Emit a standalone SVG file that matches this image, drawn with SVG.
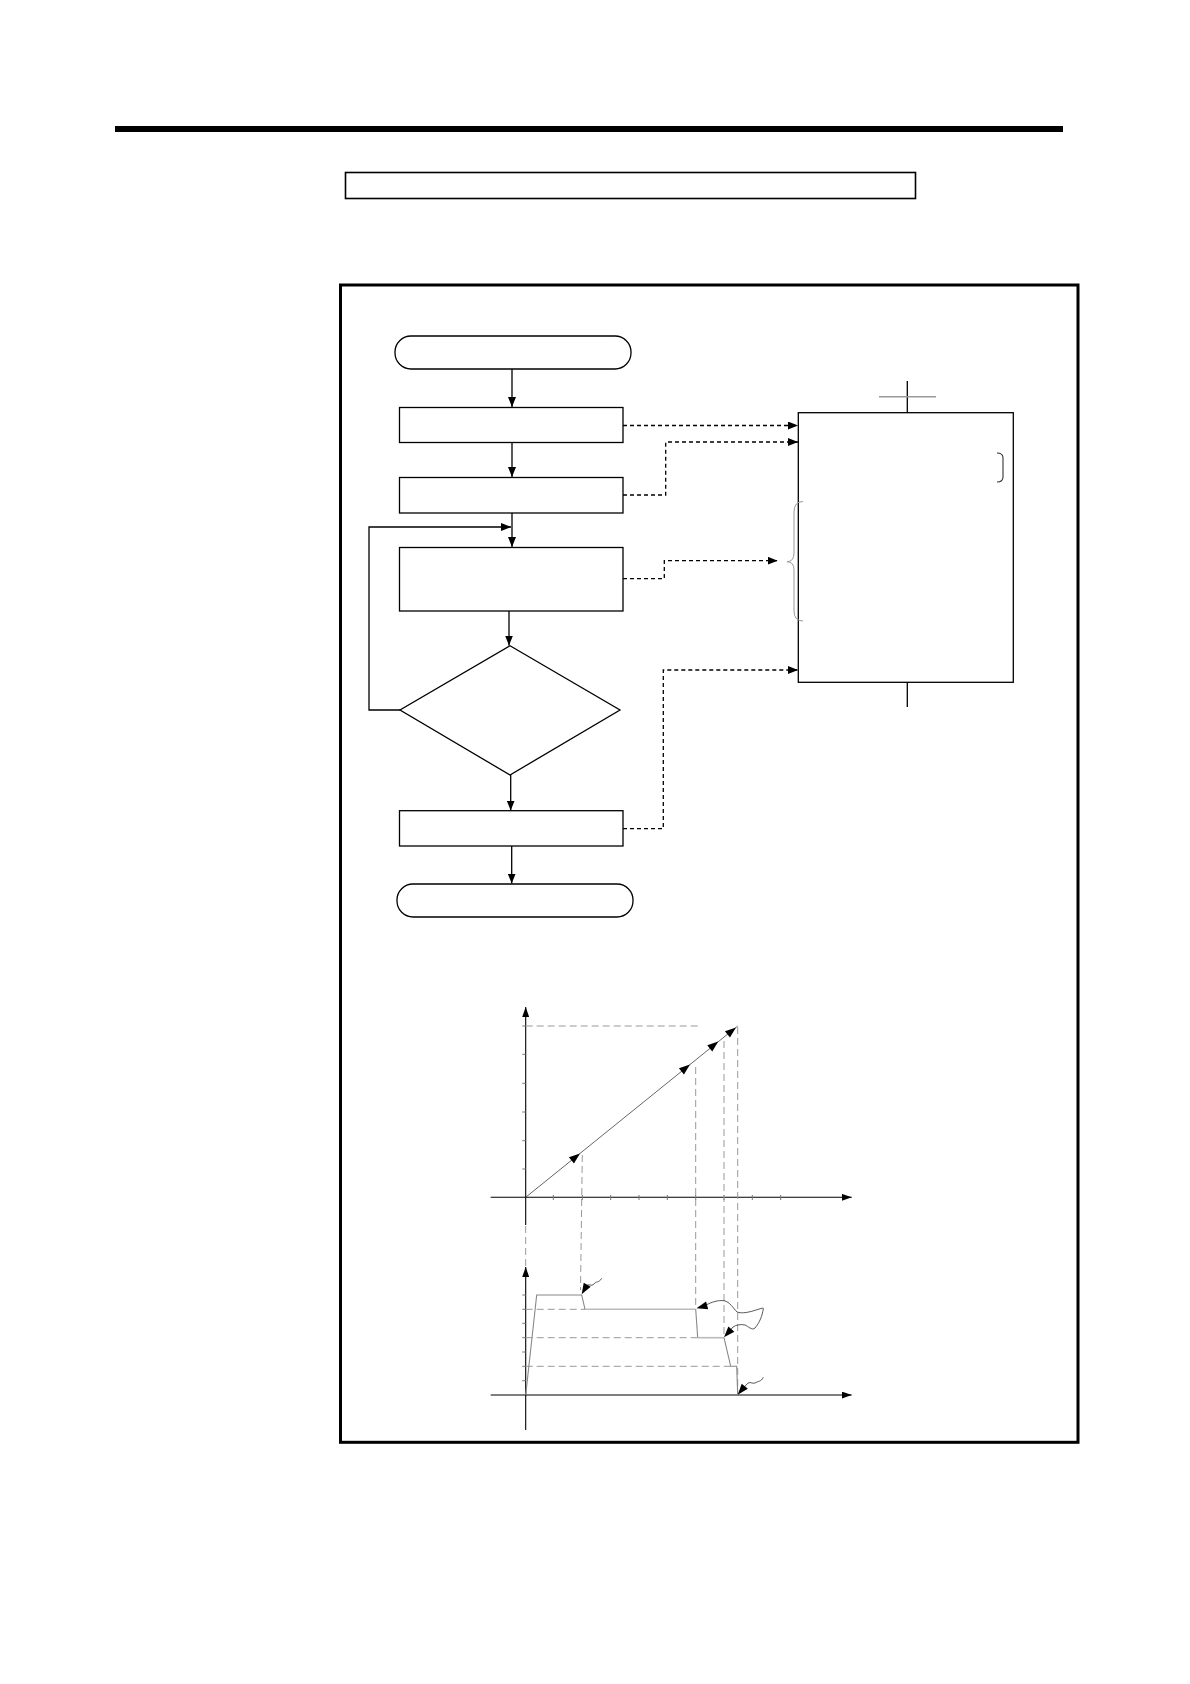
<svg xmlns="http://www.w3.org/2000/svg" width="1190" height="1684" viewBox="0 0 1190 1684">
<style>
.sh{fill:#fff;stroke:#000;stroke-width:1.3}
.ln{fill:none;stroke:#000;stroke-width:1.3}
.dl{fill:none;stroke:#000;stroke-width:1.3;stroke-dasharray:4,3}
.ax{fill:none;stroke:#000;stroke-width:1.1}
.tk{fill:none;stroke:#777;stroke-width:1}
.gd{fill:none;stroke:#999;stroke-width:1;stroke-dasharray:7,4}
.pr{fill:none;stroke:#888;stroke-width:1.1}
.cv{fill:none;stroke:#444;stroke-width:0.9}
</style>
<defs>
<marker id="a" markerWidth="10" markerHeight="8" refX="10" refY="4" orient="auto" markerUnits="userSpaceOnUse">
<path d="M0,0 L10,4 L0,8 Z" fill="#000"/>
</marker>
<marker id="s" markerWidth="10" markerHeight="7" refX="10" refY="3.5" orient="auto" markerUnits="userSpaceOnUse">
<path d="M0,0 L10,3.5 L0,7 Z" fill="#000"/>
</marker>
<path id="ah" d="M0,0 L-11,-4 L-11,4 Z" fill="#000"/>
</defs>

<rect x="115" y="126" width="948" height="6" fill="#000"/>
<g id="title"><rect x="345.5" y="172.5" width="570" height="26" fill="#fff" stroke="#000" stroke-width="1.6"/></g>
<rect id="frame" x="340.5" y="285" width="737.5" height="1157.3" fill="none" stroke="#000" stroke-width="3"/>

<g id="start"><rect class="sh" x="395" y="336" width="236" height="33" rx="16" ry="16"/></g>
<g id="box1"><rect class="sh" x="399.5" y="407.5" width="223.5" height="35"/></g>
<g id="box2"><rect class="sh" x="399.5" y="477.5" width="223.5" height="35.5"/></g>
<g id="box3"><rect class="sh" x="399.5" y="547.5" width="223.5" height="63.5"/></g>
<g id="decision"><polygon class="sh" points="510,645.7 620,710 510,775 400,710"/></g>
<g id="box4"><rect class="sh" x="399.5" y="810.7" width="223.5" height="35.3"/></g>
<g id="end"><rect class="sh" x="397" y="884" width="236" height="33" rx="16" ry="16"/></g>
<g id="panel">
<rect class="sh" x="798.3" y="412.7" width="215" height="269.6"/>
<line class="ln" x1="907.3" y1="381" x2="907.3" y2="412.7"/>
<line x1="879" y1="396.7" x2="936" y2="396.7" stroke="#999" stroke-width="1.5"/>
<line class="ln" x1="907.3" y1="682.3" x2="907.3" y2="707"/>
<path d="M997,453 Q1003,453 1003,458 L1003,477 Q1003,482 997,482" fill="none" stroke="#333" stroke-width="1.1"/>
<path d="M803,501.5 Q794,501.5 794,512 L794,553 Q794,561.7 787,561.7 Q794,561.7 794,570 L794,611 Q794,621 803,621" fill="none" stroke="#999" stroke-width="1"/>
</g>

<g id="connectors">
<line class="ln" x1="512" y1="369" x2="512" y2="407" marker-end="url(#a)"/>
<line class="ln" x1="512" y1="442.5" x2="512" y2="477" marker-end="url(#a)"/>
<line class="ln" x1="512" y1="513" x2="512" y2="547" marker-end="url(#a)"/>
<line class="ln" x1="509" y1="611" x2="509" y2="645.5" marker-end="url(#a)"/>
<line class="ln" x1="510.7" y1="775" x2="510.7" y2="810.5" marker-end="url(#a)"/>
<line class="ln" x1="511.7" y1="846" x2="511.7" y2="883.5" marker-end="url(#a)"/>
<polyline class="ln" points="400,710 369,710 369,527 511,527" marker-end="url(#a)"/>
<polyline class="dl" points="623,425.5 798,425.5" marker-end="url(#a)"/>
<polyline class="dl" points="623,495 665.7,495 665.7,442 798,442" marker-end="url(#a)"/>
<polyline class="dl" points="623,578.7 664.3,578.7 664.3,560.7 777.7,560.7" marker-end="url(#a)"/>
<polyline class="dl" points="623,828.7 663.3,828.7 663.3,670 798,670" marker-end="url(#a)"/>
</g>

<g id="graph-top">
<line class="ax" x1="525.7" y1="1225" x2="525.7" y2="1007" marker-end="url(#s)"/>
<line class="ax" x1="490.7" y1="1197.3" x2="851.7" y2="1197.3" marker-end="url(#s)"/>
<path class="tk" d="M553.3,1195V1200M582.3,1195V1200M610.7,1195V1200M639,1195V1200M667.3,1195V1200M695.7,1195V1200M724,1195V1200M752.3,1195V1200M780.7,1195V1200"/>
<path class="tk" d="M522.3,1169H525.7M522.3,1140.7H525.7M522.3,1112H525.7M522.3,1083.3H525.7M522.3,1054.3H525.7M522.3,1026H525.7"/>
<line class="gd" x1="525.7" y1="1026" x2="698.3" y2="1026"/>
<line x1="525.7" y1="1197.3" x2="737.7" y2="1026" stroke="#555" stroke-width="0.9"/>
<use href="#ah" transform="translate(580,1153.4) rotate(-38.9)"/>
<use href="#ah" transform="translate(690,1064.5) rotate(-38.9)"/>
<use href="#ah" transform="translate(718.3,1041.5) rotate(-38.9)"/>
<use href="#ah" transform="translate(736,1027.5) rotate(-38.9)"/>
<line class="gd" x1="582.3" y1="1155" x2="580.5" y2="1290"/>
<line class="gd" x1="695.7" y1="1067" x2="695.7" y2="1308"/>
<line class="gd" x1="724" y1="1041" x2="724" y2="1337"/>
<line class="gd" x1="737.7" y1="1027" x2="737.7" y2="1395"/>
<line class="gd" x1="525.7" y1="1226" x2="525.7" y2="1266"/>
</g>

<g id="graph-bottom">
<line class="ax" x1="525.7" y1="1430" x2="525.7" y2="1267" marker-end="url(#s)"/>
<line class="ax" x1="490.7" y1="1395" x2="851.7" y2="1395" marker-end="url(#s)"/>
<path class="tk" d="M522.3,1295H525.7M522.3,1309.3H525.7M522.3,1323.3H525.7M522.3,1337.7H525.7M522.3,1352H525.7M522.3,1366.3H525.7M522.3,1380.7H525.7"/>
<line class="gd" x1="525.7" y1="1309.3" x2="585" y2="1309.3"/>
<line class="gd" x1="525.7" y1="1337.7" x2="697.7" y2="1337.7"/>
<line class="gd" x1="525.7" y1="1366.3" x2="730.7" y2="1366.3"/>
<polyline class="pr" points="525.7,1395 536.7,1295 581.7,1295 585,1309.3"/>
<line x1="585" y1="1309.3" x2="695.7" y2="1309.3" stroke="#bbb" stroke-width="1.6"/>
<polyline class="pr" points="695.7,1309.3 697.7,1337.7"/>
<line x1="697.7" y1="1337.7" x2="724" y2="1337.7" stroke="#bbb" stroke-width="1.6"/>
<polyline class="pr" points="724,1337.7 730.7,1366.3 736.7,1366.3 737.7,1395"/>
<path class="cv" d="M601.7,1278.3 C599,1283 596,1281 594,1284 C591,1287 589,1283 586.5,1286 L583,1292"/>
<use href="#ah" transform="translate(581.7,1294.3) rotate(120)"/>
<path class="cv" d="M706,1305 C712,1302 718,1300 724,1300.7 C730,1302 733,1308 737,1312 C742,1314 750,1312 756,1310 C760,1309 764,1307 763.3,1309 C762,1316 760,1322 755,1328 C752,1331 748,1326 745,1325 C740,1324 736,1325 733,1327 L726,1335"/>
<use href="#ah" transform="translate(696.5,1308.3) rotate(165)"/>
<use href="#ah" transform="translate(724,1337.3) rotate(132)"/>
<path class="cv" d="M763.3,1377.3 C761,1382 758,1381 755,1383 C752,1384 750,1381 747,1384 L740,1392"/>
<use href="#ah" transform="translate(737.7,1394.7) rotate(130)"/>
</g>
</svg>
